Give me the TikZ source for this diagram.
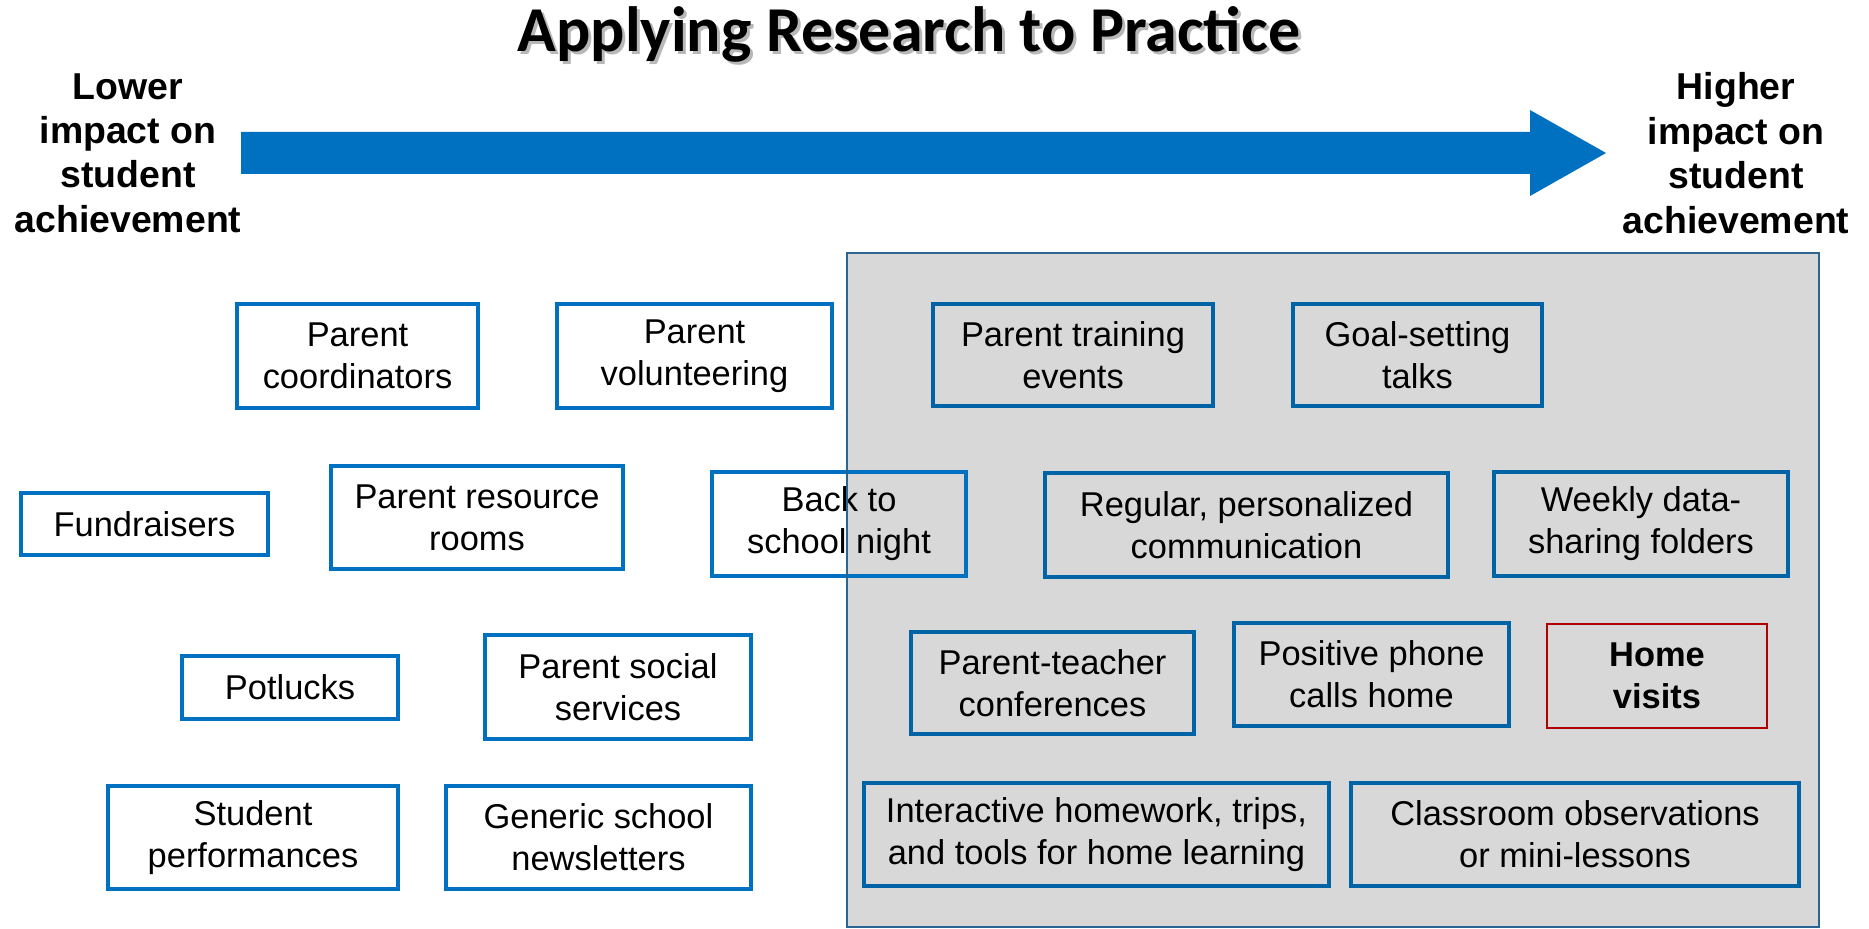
\documentclass[tikz,border=0pt]{standalone}
\usepackage{fontspec}
\setmainfont{Liberation Sans}
\newfontfamily\titlefont{Carlito}
\usepackage{tikz}
\usetikzlibrary{arrows.meta}
\definecolor{boxblue}{HTML}{0070C0}
\definecolor{inblue}{HTML}{0063A6}
\definecolor{panelgray}{HTML}{D8D8D8}
\definecolor{panelline}{HTML}{2B6593}
\definecolor{homered}{HTML}{B00000}

\begin{document}
\begin{tikzpicture}[x=0.02cm, y=-0.02cm,
   item/.style 2 args = {draw=boxblue, line width=2pt, inner sep=0pt,
                         minimum width=#1*0.02cm, minimum height=#2*0.02cm,
                         align=center, font=\fontsize{19.6}{23.8}\selectfont},
 initem/.style 2 args = {item={#1}{#2}, draw=inblue},
   side/.style = {align=center, font=\fontsize{21.3}{25.3}\selectfont\bfseries},
  heading/.style = {anchor=base, font=\titlefont\fontsize{36.4}{42}\selectfont\bfseries}
                    ]
\useasboundingbox (0,0) rectangle (1869,929);

% title and scale
\node (shadow) [heading, text=black!28] at (912,55) {Applying Research to Practice};
\node (title)  [heading] at (909,52) {Applying Research to Practice};
\node (low)  [side] at (128,153) {Lower\\impact on\\student\\achievement};
\node (high) [side] at (1736,153) {Higher\\impact on\\student\\achievement};
\fill [boxblue] (241,132) -- (1530,132) -- (1530,110) -- (1606,153)
      -- (1530,196) -- (1530,174) -- (241,174) -- cycle;

% higher impact panel
\fill [panelgray] (847,253) rectangle (1819,927);

% lower impact
\node (coord) [item={241}{104}] at (357.5,356) {Parent\\coordinators};
\node (volun) [item={275}{104}] at (694.5,356) {Parent\\volunteering};
\node (fund)  [item={247}{62}]  at (144.5,524) {Fundraisers};
\node (rooms) [item={292}{103}] at (477,517.5) {Parent resource\\rooms};
\node (back)  [item={254}{104}] at (839,524)   {Back to\\school night};
\node (pot)   [item={216}{63}]  at (290,687.5) {Potlucks};
\node (soc)   [item={266}{104}] at (618,687)   {Parent social\\services};
\node (perf)  [item={290}{103}] at (253,837.5) {Student\\performances};
\node (news)  [item={305}{103}] at (598.5,837.5) {Generic school\\newsletters};

% higher impact
\node (train) [initem={280}{102}] at (1073,355)   {Parent training\\events};
\node (goal)  [initem={249}{102}] at (1417.5,355) {Goal-setting\\talks};
\node (comm)  [initem={403}{104}] at (1246.5,525) {Regular, personalized\\communication};
\node (week)  [initem={294}{104}] at (1641,524)   {Weekly data-\\sharing folders};
\node (conf)  [initem={283}{102}] at (1052.5,683) {Parent-teacher\\conferences};
\node (phone) [initem={275}{103}] at (1371.5,674.5) {Positive phone\\calls home};
\node (home)  [initem={220}{104}, draw=homered, line width=1.2pt, font=\fontsize{19.6}{23.8}\selectfont\bfseries]
      at (1657,676) {Home\\visits};
\node (inter) [initem={465}{103}] at (1096.5,834.5) {Interactive homework, trips,\\and tools for home learning};
\node (obs)   [initem={448}{103}] at (1575,834.5) {Classroom observations\\or mini-lessons};

\draw [panelline, line width=1.2pt] (847,253) rectangle (1819,927);
\end{tikzpicture}
\end{document}
